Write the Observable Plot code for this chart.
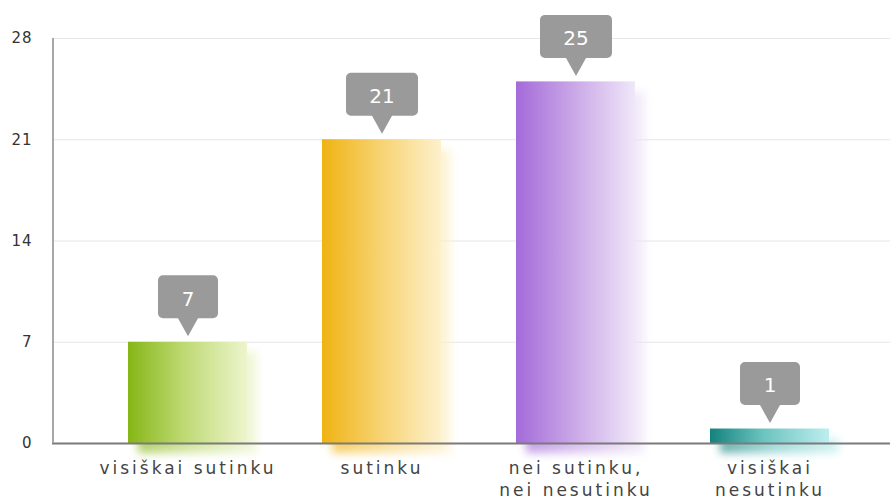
<!DOCTYPE html>
<html>
<head>
<meta charset="utf-8">
<script src="https://cdn.jsdelivr.net/npm/d3@7"></script>
<script src="https://cdn.jsdelivr.net/npm/@observablehq/plot@0.6"></script>
<style>
  html, body { margin: 0; padding: 0; background: #fff; }
  g[aria-label^="x-axis"] text { letter-spacing: 3px; }
  g[aria-label^="y-axis"] text { letter-spacing: 1px; }
</style>
</head>
<body>
<div id="chart"></div>
<script>
// ---- data ----
const categories = ["visiškai sutinku", "sutinku", "nei sutinku,\nnei nesutinku", "visiškai\nnesutinku"];
const values = [7, 21, 25, 1];
const yTicks = [0, 7, 14, 21, 28];

// ---- palette (left / middle / right of each bar gradient) ----
const leftColors  = ["#86b616", "#efb312", "#a46bd9", "#13827d"];
const midColors   = ["#bcd870", "#f6d06a", "#c7a3e6", "#6cc4c0"];
const rightColors = ["#edf5cc", "#fdf1cc", "#f0e7f9", "#bdeeee"];

const data = categories.map((c, i) => ({category: c, value: values[i], grad: `url(#grad${i})`}));

function calloutSymbol(w) {
  return {
    draw(ctx) {
      const gap = 6, ph = 18, bh = 43, r = 5, pw = 10;
      const yb = -(gap + ph), yt = yb - bh, xl = -w / 2, xr = w / 2;
      ctx.moveTo(0, -gap);
      ctx.lineTo(-pw, yb);
      ctx.lineTo(xl + r, yb);
      ctx.arcTo(xl, yb, xl, yb - r, r);
      ctx.lineTo(xl, yt + r);
      ctx.arcTo(xl, yt, xl + r, yt, r);
      ctx.lineTo(xr - r, yt);
      ctx.arcTo(xr, yt, xr, yt + r, r);
      ctx.lineTo(xr, yb - r);
      ctx.arcTo(xr, yb, xr - r, yb, r);
      ctx.lineTo(pw, yb);
      ctx.closePath();
    }
  };
}

function defsMark() {
  const g = d3.create("svg:g");
  const defs = g.append("defs");
  categories.forEach((c, i) => {
    const lg = defs.append("linearGradient").attr("id", `grad${i}`)
      .attr("x1", 0).attr("x2", 1).attr("y1", 0).attr("y2", 0);
    lg.append("stop").attr("offset", "0%").attr("stop-color", leftColors[i]);
    lg.append("stop").attr("offset", "45%").attr("stop-color", midColors[i]);
    lg.append("stop").attr("offset", "100%").attr("stop-color", rightColors[i]);
  });
  return g.node();
}

// left axis line, placed from the plot's own dimensions
function leftAxisLine(index, scales, values, dimensions) {
  const {marginLeft, marginTop, marginBottom, height} = dimensions;
  return d3.create("svg:line")
    .attr("x1", marginLeft + 1).attr("x2", marginLeft + 1)
    .attr("y1", marginTop).attr("y2", height - marginBottom)
    .attr("stroke", "#a8a8a8").attr("stroke-width", 2).node();
}

const chart = Plot.plot({
  width: 890,
  height: 500,
  marginLeft: 52,
  marginRight: 0,
  marginTop: 38,
  marginBottom: 57,
  style: {fontFamily: "DejaVu Sans", background: "#fff"},
  x: {domain: categories, range: [52, 906], paddingInner: 0.385, paddingOuter: 0.385, label: null},
  y: {domain: [0, 28], label: null},
  color: {domain: categories, range: data.map(d => d.grad)},
  marks: [
    defsMark,
    Plot.gridY(yTicks, {stroke: "#e6e6e6", strokeOpacity: 1}),
    Plot.barY(data, {x: "category", y: "value", fill: "category", dx: 10, dy: 10, fillOpacity: 0.65}),
    Plot.barY(data, {x: "category", y: "value", fill: "category"}),
    Plot.ruleY([0], {stroke: "#7a7a7a", strokeWidth: 2}),
    Plot.axisY({ticks: yTicks, tickSize: 0, tickPadding: 20, fontSize: 15, fill: "#333", label: null}),
    Plot.axisX({tickSize: 0, tickPadding: 15, fontSize: 17, lineHeight: 1.3, fill: "#444", label: null}),
    Plot.dot(data, {filter: d => d.value < 10, x: "category", y: "value", symbol: calloutSymbol(60), fill: "#9a9a9a", stroke: "none"}),
    Plot.dot(data, {filter: d => d.value >= 10, x: "category", y: "value", symbol: calloutSymbol(72), fill: "#9a9a9a", stroke: "none"}),
    Plot.text(data, {x: "category", y: "value", text: d => String(d.value), dy: -43, fill: "#fff", fontSize: 20}),
    leftAxisLine
  ]
});

// soften the offset copy of the bars into a shadow (CSS blur instead of an SVG filter)
d3.select(chart).selectAll('g[aria-label="bar"]').filter((d, i) => i === 0).style("filter", "blur(4px)");
document.getElementById("chart").appendChild(chart);
</script>
</body>
</html>
